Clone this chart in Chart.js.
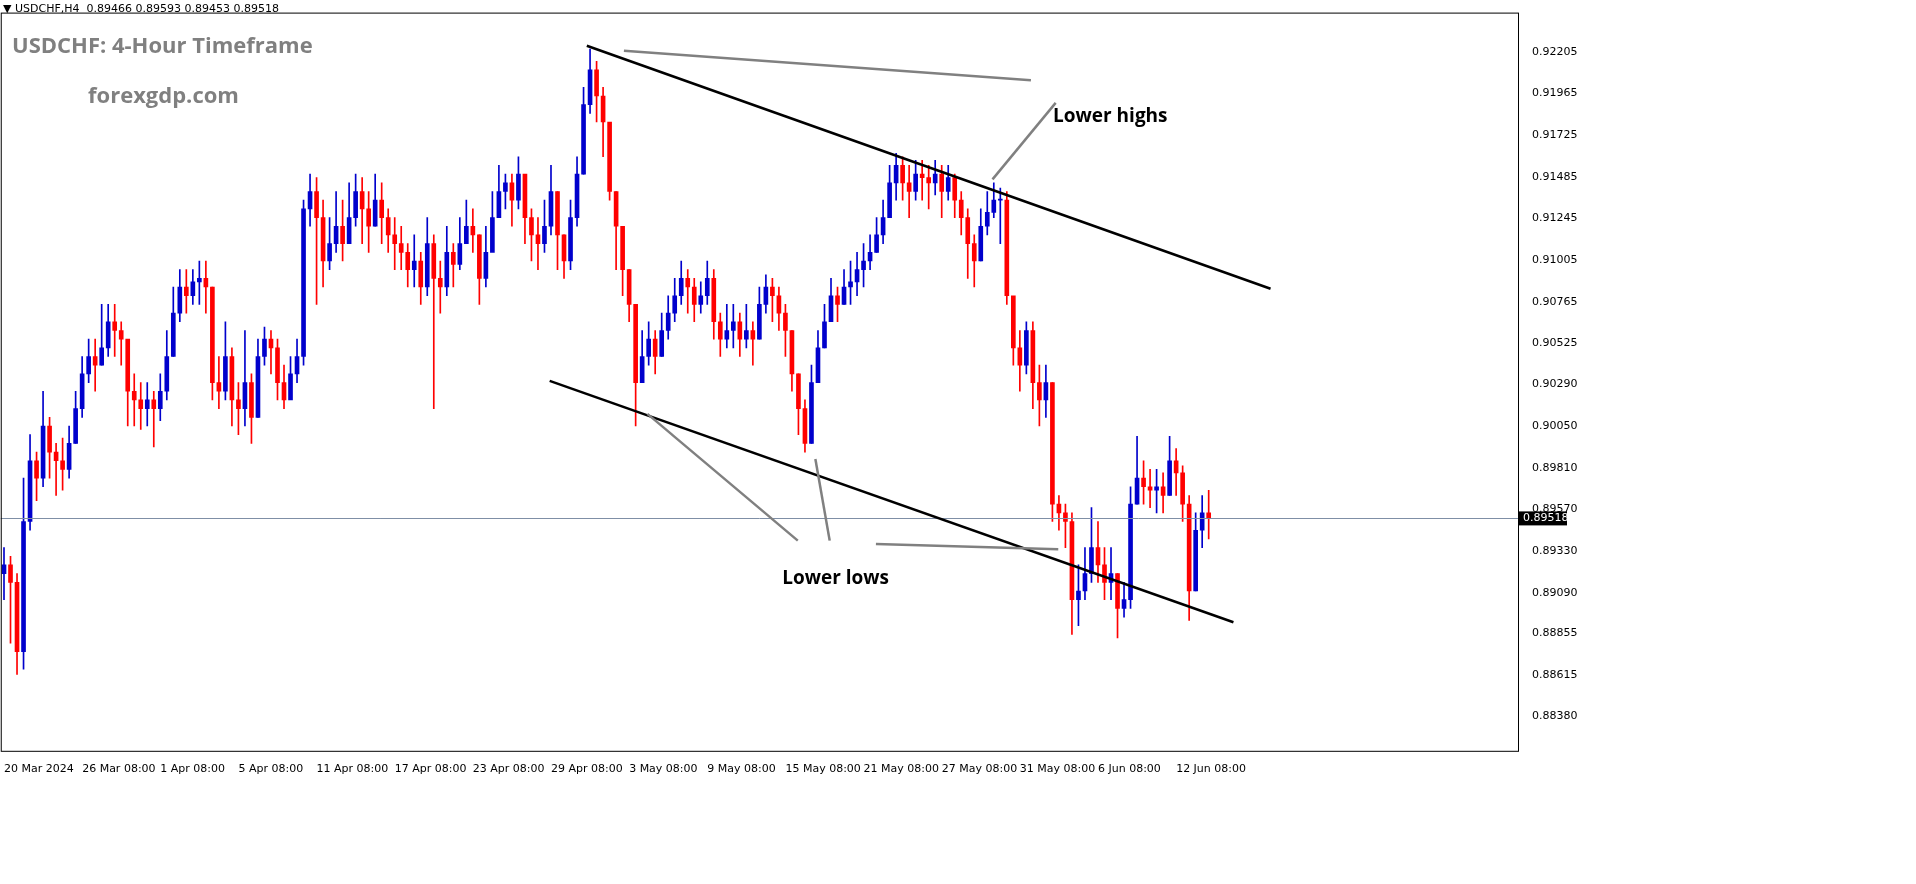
<!DOCTYPE html>
<html>
<head>
<meta charset="utf-8">
<script src="https://cdn.jsdelivr.net/npm/chart.js@4.4.1/dist/chart.umd.min.js"></script>
<style>
html,body{margin:0;padding:0;background:#fff;}
#wrap{width:1916px;height:884px;position:relative;}
</style>
</head>
<body>
<div id="wrap"><canvas id="c"></canvas></div>
<script>
// 12-hour candles (USDCHF)
const closes=[.8925,.8915,.8875,.8950,.8985,.8975,.9005,.8990,.8985,.8980,.8995,.9015,.9035,.9045,.9040,.9050,.9065,.9060,.9055,.9025,
.9020,.9015,.9020,.9015,.9025,.9045,.9070,.9085,.9080,.9088,.9090,.9085,.9030,.9025,.9045,.9020,.9015,.9030,.9010,.9045,
.9055,.9050,.9030,.9020,.9035,.9045,.9130,.9140,.9125,.9100,.9110,.9120,.9110,.9125,.9140,.9130,.9120,.9135,.9125,.9115,
.9110,.9105,.9095,.9100,.9085,.9110,.9090,.9085,.9105,.9098,.9110,.9120,.9115,.9090,.9105,.9125,.9140,.9145,.9135,.9150,
.9125,.9115,.9110,.9120,.9140,.9115,.9100,.9125,.9150,.9190,.9210,.9195,.9180,.9140,.9120,.9095,.9075,.9030,.9045,.9055,
.9045,.9060,.9070,.9080,.9090,.9085,.9075,.9080,.9090,.9065,.9055,.9060,.9065,.9055,.9060,.9055,.9075,.9085,.9080,.9070,
.9060,.9035,.9015,.8995,.9030,.9050,.9065,.9080,.9075,.9085,.9088,.9095,.9100,.9105,.9115,.9125,.9145,.9155,.9145,.9140,
.9150,.9148,.9145,.9150,.9140,.9148,.9135,.9125,.9110,.9100,.9120,.9128,.9135,.9135,.9080,.9050,.9040,.9060,.9030,.9020,
.9030,.8960,.8955,.8950,.8905,.8910,.8920,.8935,.8925,.8915,.8920,.8900,.8905,.8960,.8975,.8970,.8968,.8970,.8965,.8985,
.8978,.8960,.8910,.8945,.8955,.89518];
const highs=[.8935,.8930,.8920,.8975,.9000,.8990,.9025,.9010,.8995,.8998,.9005,.9025,.9045,.9055,.9055,.9075,.9075,.9075,.9065,.9045,
.9035,.9030,.9030,.9025,.9035,.9060,.9085,.9095,.9095,.9095,.9100,.9100,.9085,.9045,.9065,.9050,.9030,.9060,.9035,.9055,
.9062,.9060,.9055,.9040,.9045,.9055,.9135,.9150,.9148,.9135,.9125,.9140,.9135,.9145,.9150,.9148,.9140,.9150,.9145,.9130,
.9125,.9120,.9110,.9115,.9105,.9125,.9115,.9100,.9120,.9110,.9125,.9135,.9130,.9115,.9120,.9140,.9155,.9150,.9150,.9160,
.9145,.9130,.9125,.9135,.9155,.9140,.9115,.9135,.9160,.9200,.9222,.9215,.9200,.9175,.9140,.9120,.9095,.9075,.9060,.9065,
.9060,.9070,.9080,.9090,.9100,.9095,.9090,.9088,.9100,.9095,.9070,.9075,.9075,.9070,.9075,.9065,.9085,.9092,.9090,.9085,
.9075,.9060,.9035,.9020,.9040,.9060,.9075,.9090,.9085,.9095,.9100,.9105,.9110,.9115,.9125,.9135,.9155,.9162,.9160,.9155,
.9158,.9158,.9155,.9158,.9155,.9155,.9150,.9140,.9130,.9115,.9130,.9140,.9145,.9142,.9140,.9075,.9060,.9065,.9065,.9040,
.9040,.9030,.8965,.8960,.8955,.8925,.8935,.8958,.8950,.8935,.8935,.8920,.8915,.8970,.8999,.8985,.8980,.8980,.8978,.8999,
.8992,.8982,.8965,.8955,.8965,.8968];
const lows=[.8905,.8880,.8862,.8865,.8945,.8962,.8970,.8975,.8965,.8968,.8975,.8995,.9010,.9030,.9025,.9040,.9045,.9045,.9040,.9005,
.9005,.9003,.9005,.8993,.9008,.9020,.9045,.9065,.9070,.9075,.9075,.9070,.9020,.9015,.9020,.9005,.9000,.9005,.8995,.9010,
.9040,.9035,.9020,.9015,.9025,.9030,.9040,.9120,.9075,.9085,.9095,.9105,.9100,.9110,.9120,.9110,.9105,.9120,.9110,.9105,
.9095,.9095,.9085,.9085,.9075,.9080,.9015,.9070,.9080,.9085,.9095,.9110,.9105,.9075,.9085,.9110,.9125,.9130,.9120,.9130,
.9110,.9100,.9095,.9105,.9115,.9095,.9090,.9095,.9120,.9150,.9185,.9180,.9160,.9135,.9095,.9080,.9065,.9005,.9030,.9040,
.9035,.9045,.9055,.9065,.9075,.9070,.9065,.9070,.9075,.9055,.9045,.9050,.9050,.9045,.9050,.9040,.9055,.9070,.9065,.9060,
.9045,.9025,.9000,.8990,.8995,.9030,.9050,.9065,.9065,.9075,.9075,.9080,.9085,.9095,.9105,.9110,.9125,.9135,.9135,.9125,
.9135,.9135,.9130,.9138,.9125,.9135,.9125,.9115,.9090,.9085,.9100,.9115,.9125,.9110,.9075,.9040,.9025,.9035,.9015,.9005,
.9010,.8950,.8945,.8935,.8885,.8890,.8905,.8915,.8915,.8905,.8905,.8883,.8895,.8900,.8960,.8960,.8958,.8955,.8955,.8965,
.8965,.8950,.8893,.8910,.8935,.8940];
const firstOpen=.8920;
const xTickLabels=['20 Mar 2024','26 Mar 08:00','1 Apr 08:00','5 Apr 08:00','11 Apr 08:00','17 Apr 08:00','23 Apr 08:00','29 Apr 08:00',
'3 May 08:00','9 May 08:00','15 May 08:00','21 May 08:00','27 May 08:00','31 May 08:00','6 Jun 08:00','12 Jun 08:00'];
const yTickValues=[.92205,.91965,.91725,.91485,.91245,.91005,.90765,.90525,.90290,.90050,.89810,.89570,.89330,.89090,.88855,.88615,.88380];
const lastPrice=.89518;
// drawn objects in data units [index, price]
const channelLines=[[[89.5,.92239],[194.5,.9084]],[[83.8,.9031],[188.8,.8892]]];
const pointerLines=[[[95.2,.9221],[157.7,.9204]],[[161.5,.9191],[151.8,.9147]],[[98.8,.9012],[121.9,.8939]],[[124.6,.8986],[126.8,.8939]],[[133.9,.8937],[161.9,.8934]]];
const notes=[['Lower highs',161.1,.9183],['Lower lows',119.5,.8917]];

const totalSlots=233;
const labels=[];
for(let i=0;i<totalSlots;i++){labels.push(i%12===0&&i/12<xTickLabels.length?xTickLabels[i/12]:'');}
const opens=closes.map((c,i)=>i===0?firstOpen:closes[i-1]);
const bodies=closes.map((c,i)=>[opens[i],c]);
const wicks=closes.map((c,i)=>[lows[i],highs[i]]);
const cols=closes.map((c,i)=>c>=opens[i]?'#0000cc':'#ff0000');

const overlay={
  id:'overlay',
  afterDatasetsDraw(chart){
    const ctx=chart.ctx,x=chart.scales.x,y=chart.scales.y,a=chart.chartArea;
    const px=v=>x.getPixelForValue(v),py=v=>y.getPixelForValue(v);
    ctx.save();
    ctx.strokeStyle='#7f8fa6';ctx.lineWidth=1;
    ctx.beginPath();ctx.moveTo(a.left,Math.round(py(lastPrice))+.5);ctx.lineTo(a.right,Math.round(py(lastPrice))+.5);ctx.stroke();
    ctx.strokeStyle='#000';ctx.lineWidth=2.5;
    channelLines.forEach(l=>{ctx.beginPath();ctx.moveTo(px(l[0][0]),py(l[0][1]));ctx.lineTo(px(l[1][0]),py(l[1][1]));ctx.stroke();});
    ctx.strokeStyle='#808080';ctx.lineWidth=2.5;
    pointerLines.forEach(l=>{ctx.beginPath();ctx.moveTo(px(l[0][0]),py(l[0][1]));ctx.lineTo(px(l[1][0]),py(l[1][1]));ctx.stroke();});
    ctx.fillStyle='#000';ctx.font='bold 19px "Open Sans", sans-serif';ctx.textBaseline='middle';
    notes.forEach(n=>ctx.fillText(n[0],px(n[1]),py(n[2])));
    ctx.fillStyle='#808080';ctx.font='bold 22px "Open Sans", sans-serif';
    ctx.fillText('USDCHF: 4-Hour Timeframe',12,47);
    ctx.fillText('forexgdp.com',88,97);
    ctx.fillStyle='#000';ctx.font='11px "DejaVu Sans", sans-serif';
    ctx.fillText('\u25BC USDCHF,H4  0.89466 0.89593 0.89453 0.89518',3,9);
    ctx.strokeStyle='#000';ctx.lineWidth=1;
    ctx.strokeRect(a.left+.5,a.top+.5,a.right-a.left,a.bottom-a.top);
    const yy=py(lastPrice);
    ctx.fillStyle='#000';ctx.fillRect(a.right+1,yy-7,48,14);
    ctx.fillStyle='#fff';ctx.font='11px "DejaVu Sans", sans-serif';
    ctx.fillText(lastPrice.toFixed(5),a.right+5,yy);
    ctx.restore();
  }
};

new Chart('c',{
  type:'bar',
  data:{labels:labels,datasets:[
    {data:wicks,backgroundColor:cols,barThickness:1,grouped:false,order:2},
    {data:bodies,backgroundColor:cols,barThickness:4,grouped:false,order:1,minBarLength:1}
  ]},
  options:{
    responsive:true,maintainAspectRatio:false,animation:false,
    layout:{padding:{left:0,top:3,right:0,bottom:104}},
    plugins:{legend:{display:false},tooltip:{enabled:false}},
    scales:{
      x:{offset:true,grid:{display:false},border:{display:false},
        ticks:{autoSkip:false,maxRotation:0,color:'#000',font:{size:11,family:'"DejaVu Sans", sans-serif'},align:'start',padding:4,
          callback:function(v,i){return labels[i];}}},
      y:{position:'right',min:.8818,max:.9243,grid:{display:false},border:{display:false},
        afterBuildTicks:s=>{s.ticks=yTickValues.map(v=>({value:v}));},
        afterFit:s=>{s.width=398;},
        ticks:{color:'#000',font:{size:11,family:'"DejaVu Sans", sans-serif'},padding:6,callback:v=>v.toFixed(5)}}
    }
  },
  plugins:[overlay]
});
</script>
</body>
</html>
